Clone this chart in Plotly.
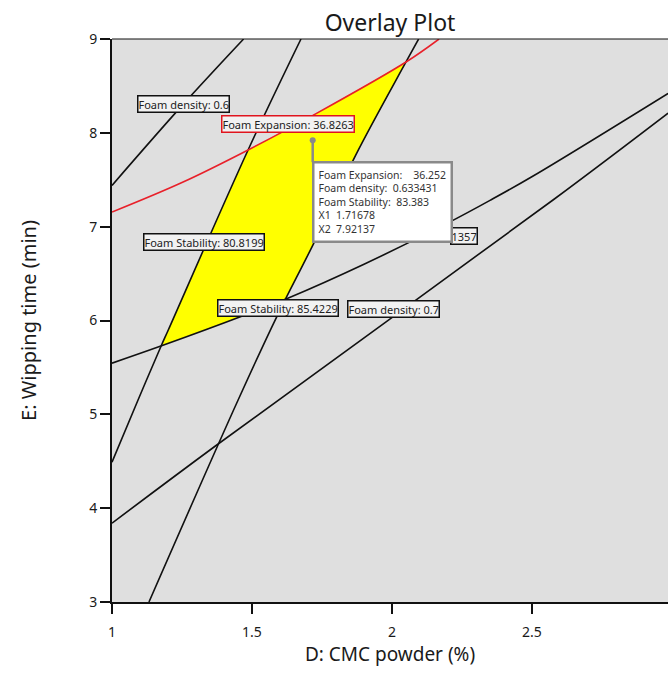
import plotly.graph_objects as go

# ---------------- data ----------------
x_ticks = [1, 1.5, 2, 2.5, 3]
x_tick_labels = ["1", "1.5", "2", "2.5", "3"]
y_ticks = [3, 4, 5, 6, 7, 8, 9]
y_tick_labels = ["3", "4", "5", "6", "7", "8", "9"]

# Foam density = 0.6 contour
density06_x = [1.0, 1.25, 1.47]
density06_y = [7.44, 8.29, 9.0]

# Foam density = 0.7 contour
density07_x = [1.0, 1.368, 2.575, 2.986]
density07_y = [3.84, 4.66, 7.284, 8.21]

# Foam Stability = 80.8199 contour
stab80_x = [1.0, 1.093, 1.177, 1.201, 1.486, 1.675]
stab80_y = [4.49, 5.153, 5.739, 5.899, 7.817, 9.0]

# Foam Stability = 85.4229 contour
stab85_x = [1.132, 1.45, 1.59, 1.72, 1.87, 2.05, 2.095]
stab85_y = [3.0, 5.15, 6.05, 6.82, 7.76, 8.755, 9.0]

# Foam Expansion = 36.8263 contour (red)
exp36_x = [1.0, 1.25, 1.486, 1.732, 2.05, 2.168]
exp36_y = [7.155, 7.47, 7.817, 8.21, 8.755, 9.0]

# Foam Expansion lower contour (label mostly hidden, only "1357" visible)
exp31_x = [1.0, 1.177, 1.468, 1.63, 1.9, 2.2, 2.35, 2.504, 2.986]
exp31_y = [5.545, 5.73, 6.05, 6.24, 6.6, 7.04, 7.28, 7.54, 8.42]

# feasible (yellow) region boundary
region_x = [1.177, 1.201, 1.486, 1.732, 2.05, 1.87, 1.72, 1.622, 1.468, 1.177]
region_y = [5.73, 5.899, 7.817, 8.21, 8.755, 7.76, 6.82, 6.235, 6.05, 5.73]

# flagged point
flag_x1 = 1.71678
flag_x2 = 7.92137
flag_expansion = 36.252
flag_density = 0.633431
flag_stability = 83.383

# contour labels: text, x, y
label_texts = ["Foam density: 0.6", "Foam Expansion: 36.8263", "Foam Stability: 80.8199",
               "Foam Stability: 85.4229", "Foam density: 0.7"]
label_x = [1.254, 1.627, 1.327, 1.593, 2.005]
label_y = [8.307, 8.094, 6.836, 6.138, 6.126]
label_border = ["#111111", "#e0141e", "#111111", "#111111", "#111111"]

hidden_label_text = "1357"
hidden_label_x = 2.307
hidden_label_y = 6.90

# ---------------- figure ----------------
FONT = "Noto Sans"
fig = go.Figure()

fig.add_trace(go.Scatter(x=region_x, y=region_y, mode="lines", fill="toself",
                         fillcolor="#ffff00", line=dict(width=0), hoverinfo="skip",
                         showlegend=False))

black_curves = [(density06_x, density06_y), (density07_x, density07_y),
                (stab80_x, stab80_y), (stab85_x, stab85_y), (exp31_x, exp31_y)]
for cx, cy in black_curves:
    fig.add_trace(go.Scatter(x=cx, y=cy, mode="lines", line=dict(color="#111111", width=1.6),
                             line_shape="spline", showlegend=False, hoverinfo="skip"))

fig.add_trace(go.Scatter(x=exp36_x, y=exp36_y, mode="lines", line=dict(color="#e8202a", width=1.6),
                         line_shape="spline", showlegend=False, hoverinfo="skip"))

fig.add_trace(go.Scatter(x=[flag_x1], y=[flag_x2], mode="markers",
                         marker=dict(color="#8a8a8a", size=6), showlegend=False))

# stem from flag point down to the tooltip box
fig.add_shape(type="line", xref="x", yref="y", xsizemode="pixel", ysizemode="pixel",
              xanchor=flag_x1, yanchor=flag_x2, x0=0, x1=0, y0=0, y1=-22,
              line=dict(color="#8a8a8a", width=2.5))

# top border
fig.add_shape(type="line", xref="paper", yref="paper", x0=0, x1=1, y0=1, y1=1,
              line=dict(color="#111111", width=1.2))

annotations = []
annotations.append(dict(x=hidden_label_x, y=hidden_label_y, xref="x", yref="y", text=hidden_label_text,
                        showarrow=False, xanchor="right", yanchor="middle",
                        font=dict(family=FONT, size=11, color="#222222"),
                        bgcolor="#f2f2f2", bordercolor="#111111", borderwidth=1.5, borderpad=0))
for t, lx, ly, bc in zip(label_texts, label_x, label_y, label_border):
    annotations.append(dict(x=lx, y=ly, xref="x", yref="y", text=t, showarrow=False,
                            xanchor="center", yanchor="middle",
                            font=dict(family=FONT, size=11, color="#222222"),
                            bgcolor="#f2f2f2", bordercolor=bc, borderwidth=1.5, borderpad=0))

nb = "\u00a0"
tooltip = (f"Foam Expansion:{nb*4}{flag_expansion}<br>"
           f"Foam density:{nb*2}{flag_density}<br>"
           f"Foam Stability:{nb*2}{flag_stability}<br>"
           f"X1{nb*2}{flag_x1}<br>"
           f"X2{nb*2}{flag_x2}")
annotations.append(dict(x=flag_x1, y=flag_x2, xref="x", yref="y", text=tooltip, showarrow=False,
                        xanchor="left", yanchor="top", yshift=-21, xshift=-1, align="left",
                        font=dict(family=FONT, size=10.5, color="#333333"),
                        bgcolor="#ffffff", bordercolor="#8a8a8a", borderwidth=2.5, borderpad=4))

W, H = 668, 687
fig.update_layout(
    width=W, height=H,
    margin=dict(l=112, r=0, t=39, b=85),
    paper_bgcolor="#ffffff", plot_bgcolor="#dfdfdf",
    title=dict(text="Overlay Plot", x=390 / W, xanchor="center", y=1 - 23 / H, yanchor="middle",
               font=dict(family=FONT, size=23, color="#1a1a1a")),
    annotations=annotations,
    showlegend=False,
    font=dict(family=FONT, color="#1a1a1a"),
)

fig.update_xaxes(range=[1, 1 + 556 / 280], tickvals=x_ticks, ticktext=x_tick_labels,
                 showgrid=False, zeroline=False, showline=True, linecolor="#111111", linewidth=2,
                 ticks="outside", ticklen=10, tickwidth=1.5, tickcolor="#111111",
                 ticklabelstandoff=6,
                 tickfont=dict(family=FONT, size=14, color="#1a1a1a"),
                 title=dict(text="D: CMC powder (%)", standoff=0,
                            font=dict(family=FONT, size=19, color="#1a1a1a")))
fig.update_yaxes(range=[3, 9], tickvals=y_ticks, ticktext=y_tick_labels,
                 showgrid=False, zeroline=False, showline=True, linecolor="#111111", linewidth=2,
                 ticks="outside", ticklen=10, tickwidth=1.5, tickcolor="#111111",
                 tickfont=dict(family=FONT, size=14, color="#1a1a1a"),
                 title=dict(text="E: Wipping time (min)", standoff=47,
                            font=dict(family=FONT, size=20, color="#1a1a1a")))

fig.write_html("out.html", config={"displayModeBar": False},
               post_script="document.body.style.margin='0px';")
